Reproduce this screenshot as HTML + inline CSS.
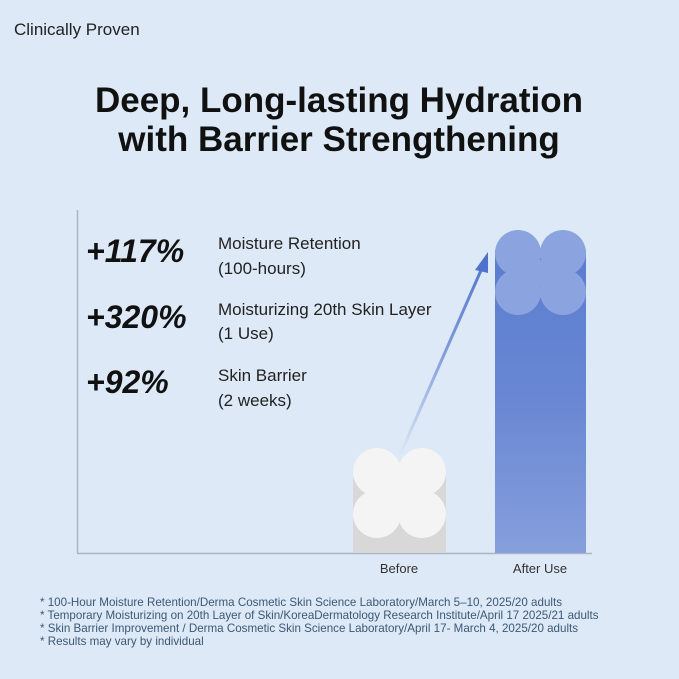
<!DOCTYPE html>
<html><head><style>
body{margin:0;width:679px;height:679px;background:#dde9f6;overflow:hidden;font-family:"Liberation Sans",sans-serif}
</style></head><body>
<svg width="679" height="679" xmlns="http://www.w3.org/2000/svg" style="position:absolute;left:0;top:0">
<defs>
<linearGradient id="ab" x1="0" y1="0" x2="0" y2="1">
<stop offset="0" stop-color="#5b7dd0"/><stop offset="0.5" stop-color="#6987d3"/><stop offset="1" stop-color="#869fdc"/></linearGradient>
<linearGradient id="ar" x1="400" y1="455" x2="488" y2="255" gradientUnits="userSpaceOnUse">
<stop offset="0" stop-color="#5b7dd0" stop-opacity="0"/><stop offset="0.5" stop-color="#5b7dd0" stop-opacity="0.7"/><stop offset="1" stop-color="#4f73cc"/></linearGradient>
</defs>
<rect width="679" height="679" fill="#dde9f6"/>
<text x="14" y="35" font-size="17" fill="#222">Clinically Proven</text>
<text x="339" y="112" font-size="35" font-weight="bold" fill="#111" text-anchor="middle">Deep, Long-lasting Hydration</text>
<text x="339" y="151" font-size="35" font-weight="bold" fill="#111" text-anchor="middle">with Barrier Strengthening</text>
<line x1="77.5" y1="210" x2="77.5" y2="553" stroke="#a9b6c6" stroke-width="1.5"/>
<line x1="77" y1="553.5" x2="592" y2="553.5" stroke="#a9b6c6" stroke-width="1.5"/>
<g font-style="italic" font-weight="bold" font-size="32" fill="#111">
<text x="86" y="262">+117%</text><text x="86" y="328">+320%</text><text x="86" y="393">+92%</text></g>
<g font-size="17" fill="#222">
<text x="218" y="249">Moisture Retention</text><text x="218" y="274">(100-hours)</text>
<text x="218" y="315">Moisturizing 20th Skin Layer</text><text x="218" y="339">(1 Use)</text>
<text x="218" y="381">Skin Barrier</text><text x="218" y="406">(2 weeks)</text></g>
<rect x="353" y="470" width="93" height="83" fill="#d8d8d8"/>
<g fill="#f4f4f4"><circle cx="377" cy="472" r="24"/><circle cx="422" cy="472" r="24"/><circle cx="377" cy="514" r="24"/><circle cx="422" cy="514" r="24"/><rect x="386" y="480" width="27" height="26"/></g>
<rect x="495" y="250" width="91" height="303" fill="url(#ab)"/>
<g fill="#8ba4e0"><circle cx="518" cy="253" r="23"/><circle cx="563" cy="253" r="23"/><circle cx="518" cy="292" r="23"/><circle cx="563" cy="292" r="23"/><rect x="527" y="260" width="27" height="26"/></g>
<line x1="400" y1="455" x2="482" y2="268" stroke="url(#ar)" stroke-width="3"/>
<polygon points="488,252 475,270 488,273" fill="#4f73cc"/>
<text x="399" y="573" font-size="13" fill="#333" text-anchor="middle">Before</text>
<text x="540" y="573" font-size="13" fill="#333" text-anchor="middle">After Use</text>
<g font-size="11.6" fill="#3b5876">
<text x="40" y="606">* 100-Hour Moisture Retention/Derma Cosmetic Skin Science Laboratory/March 5–10, 2025/20 adults</text>
<text x="40" y="619">* Temporary Moisturizing on 20th Layer of Skin/KoreaDermatology Research Institute/April 17 2025/21 adults</text>
<text x="40" y="632">* Skin Barrier Improvement / Derma Cosmetic Skin Science Laboratory/April 17- March 4, 2025/20 adults</text>
<text x="40" y="645">* Results may vary by individual</text></g>
</svg>
</body></html>
